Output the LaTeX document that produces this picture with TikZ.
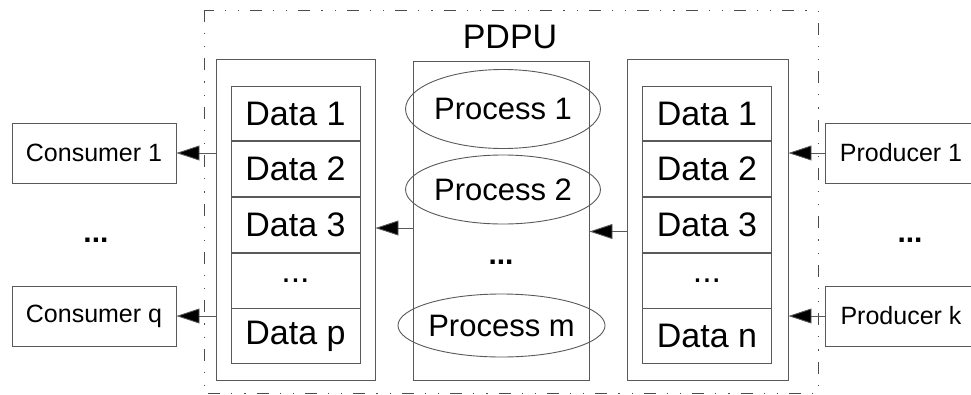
\documentclass[tikz,border=0pt]{standalone}
\usepackage{fontspec}
\setmainfont{Liberation Sans}
\usetikzlibrary{positioning, shapes.geometric, arrows.meta}

\tikzset{
    box/.style={draw=black!65, line width=0.9pt, rectangle, inner sep=0pt},
    ext/.style={box, minimum width=164pt, minimum height=60pt, font=\fontsize{25}{30}\selectfont},
    cell/.style={box, minimum width=129pt, minimum height=54.8pt, font=\fontsize{34}{40}\selectfont},
    proc/.style={draw=black!65, line width=0.9pt, ellipse, inner sep=0pt, minimum width=163pt, font=\fontsize{31}{36}\selectfont},
    flow/.style={draw=black!65, line width=0.9pt, -{Triangle[length=23pt,width=15pt,fill=black]}},
    frame/.style={draw=black!70, line width=0.9pt, dash pattern=on 12pt off 11pt on 1.2pt off 12pt on 1.2pt off 11pt},
    dots/.style={font=\fontsize{30}{36}\selectfont\bfseries}
}

\begin{document}
\begin{tikzpicture}[x=1pt, y=-1pt]
        \useasboundingbox (0,0) rectangle (971,394);
        % PDPU frame
        \draw[frame] (204,10) rectangle (818,393);
        \node (title) at (510,37) {\fontsize{34}{40}\selectfont PDPU};

        % outer boxes
        \node[box, minimum width=159pt, minimum height=321pt] (lbox) at (295.5,219.5) {};
        \node[box, minimum width=176pt, minimum height=319pt] (mbox) at (501,220.5) {};
        \node[box, minimum width=161pt, minimum height=321pt] (rbox) at (707.5,219.5) {};

        % data cells, left
        \node[cell] (l1) at (295.5,113.5) {Data 1};
        \node[cell, below=0pt of l1] (l2) {Data 2};
        \node[cell, below=0pt of l2] (l3) {Data 3};
        \node[cell, below=0pt of l3] (l4) {...};
        \node[cell, below=0pt of l4] (l5) {Data p};

        % data cells, right
        \node[cell] (r1) at (707,113.5) {Data 1};
        \node[cell, below=0pt of r1] (r2) {Data 2};
        \node[cell, below=0pt of r2] (r3) {Data 3};
        \node[cell, below=0pt of r3] (r4) {...};
        \node[cell, below=0pt of r4] (r5) {Data n};

        % processes
        \node[proc, minimum height=79pt] (p1) at (503,109) {Process 1};
        \node[proc, minimum height=69pt] (p2) at (503,189.5) {Process 2};
        \node[dots] (pdots) at (501,262) {...};
        \node[proc, minimum height=63pt] (pm) at (501.5,325.5) {Process m};

        % consumers and producers
        \node[ext] (c1) at (94,153) {Consumer 1};
        \node[dots] (cdots) at (96,240) {...};
        \node[ext] (cq) at (94,316) {Consumer q};
        \node[ext, minimum width=152pt] (pr1) at (901,153) {Producer 1};
        \node[dots] (prdots) at (910,240) {...};
        \node[ext, minimum width=152pt] (prk) at (901,316) {Producer k};

        % flows
        \draw[flow] (lbox.west |- c1) -- (c1.east);
        \draw[flow] (lbox.west |- cq) -- (cq.east);
        \draw[flow] ([yshift=-7.5pt]mbox.west) -- ([yshift=-7.5pt]mbox.west -| lbox.east);
        \draw[flow] ([yshift=-12pt]rbox.west) -- ([yshift=-12pt]rbox.west -| mbox.east);
        \draw[flow] (pr1.west) -- (pr1.west -| rbox.east);
        \draw[flow] (prk.west) -- (prk.west -| rbox.east);
\end{tikzpicture}
\end{document}
